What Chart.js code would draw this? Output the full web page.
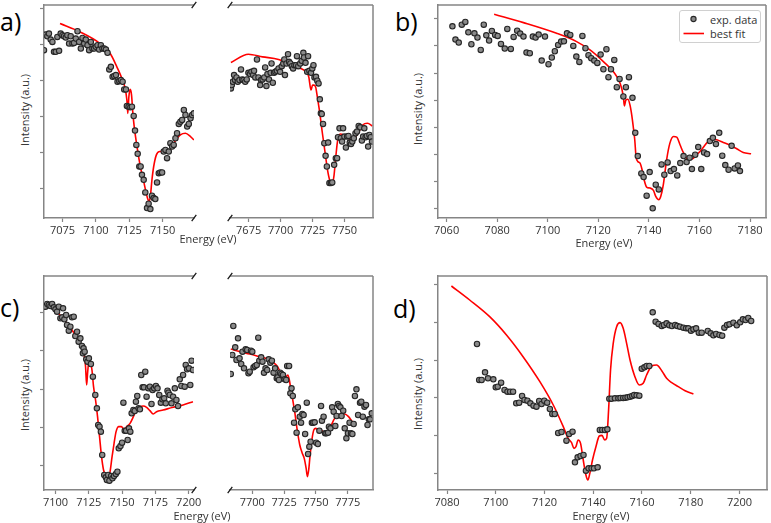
<!DOCTYPE html>
<html>
<head>
<meta charset="utf-8">
<script src="https://cdn.jsdelivr.net/npm/chart.js@4/dist/chart.umd.min.js"></script>
<style>
  body { margin: 0; background: #fff; font-family: 'Open Sans', sans-serif; color: #333; }
  #page { position: relative; width: 771px; height: 523px; overflow: hidden; }
  .plot { position: absolute; }
  .txt { position: absolute; white-space: nowrap; font-size: 11px; line-height: 1; }
  .letter { position: absolute; font-size: 25px; line-height: 1; color: #000; }
  .ytitle { position: absolute; font-size: 11px; line-height: 1; white-space: nowrap; transform: translate(-50%, -50%) rotate(-90deg); }
  .xtitle { position: absolute; font-size: 11px; line-height: 1; white-space: nowrap; transform: translate(-50%, -50%); }
  #legend { position: absolute; left: 679px; top: 10px; width: 80px; height: 31px; border: 1px solid #d0d0d0; border-radius: 3px; background: #fff; }
</style>
</head>
<body>
<div id="page">
  <div class="letter" style="left:0px; top:9px;">a)</div>
  <div class="letter" style="left:395px; top:9px;">b)</div>
  <div class="letter" style="left:0px; top:295px;">c)</div>
  <div class="letter" style="left:393px; top:296px;">d)</div>

  <div class="ytitle" style="left:24px; top:110px;">Intensity (a.u.)</div>
  <div class="ytitle" style="left:417px; top:109px;">Intensity (a.u.)</div>
  <div class="ytitle" style="left:24px; top:395px;">Intensity (a.u.)</div>
  <div class="ytitle" style="left:417px; top:394px;">Intensity (a.u.)</div>

  <div class="xtitle" style="left:208px; top:238px;">Energy (eV)</div>
  <div class="xtitle" style="left:604px; top:242px;">Energy (eV)</div>
  <div class="xtitle" style="left:202px; top:515px;">Energy (eV)</div>
  <div class="xtitle" style="left:601px; top:515px;">Energy (eV)</div>
</div>

<script>
// panel a, low energy part
const aLoE = [7061.1,7062.3,7063.6,7064.8,7066.1,7067.4,7068.6,7069.9,7071.1,7072.4,7073.6,7074.9,7076.1,7077.4,7078.6,7079.9,7081.1,7082.4,7083.6,7084.9,7086.2,7087.4,7088.7,7089.9,7091.2,7092.4,7093.7,7094.9,7096.2,7097.4,7098.7,7099.9,7101.2,7102.4,7103.7,7104.9,7106.2,7107.5,7108.7,7110.0,7111.2,7112.5,7113.7,7115.0,7116.2,7117.5,7118.7,7120.0,7121.2,7122.5,7123.2,7124.5,7125.8,7127.0,7128.3,7129.3,7130.3,7131.3,7132.5,7133.5,7134.5,7135.8,7137.0,7138.3,7139.5,7140.8,7142.0,7143.3,7144.5,7145.8,7147.1,7148.3,7149.6,7150.8,7152.1,7153.3,7154.6,7155.8,7157.1,7158.3,7159.6,7160.8,7162.1,7163.3,7164.6,7165.9,7167.1,7168.4,7169.6,7170.9,7172.1,7173.4];
const aLoI = [5.05,5.52,5.47,5.55,5.37,5.30,5.00,5.00,5.45,5.03,5.55,5.50,5.47,5.43,5.50,5.25,5.47,5.25,5.27,5.40,5.62,5.30,5.10,5.42,5.25,5.37,5.20,5.05,5.30,5.10,5.10,5.15,5.20,5.07,5.20,5.10,5.10,5.07,4.97,4.47,4.55,4.25,4.27,4.30,4.10,4.12,4.15,4.10,3.87,3.87,3.37,3.35,3.33,3.35,3.07,2.63,2.20,1.93,1.55,1.55,1.30,1.15,0.77,0.30,0.43,0.27,0.67,0.60,0.57,1.07,1.35,1.37,1.37,2.00,2.05,1.80,2.00,2.25,2.15,2.20,2.40,2.55,2.83,2.90,2.95,3.25,3.10,2.75,2.83,3.00,3.10,3.15];
const aLoFitE = [7073.1,7088.2,7103.2,7110.7,7115.7,7119.5,7121.9,7123.2,7123.9,7124.7,7125.7,7126.7,7127.7,7128.7,7130.8,7133.3,7135.8,7138.3,7139.8,7140.8,7142.0,7143.3,7145.3,7147.8,7150.8,7154.6,7158.3,7163.3,7167.1,7170.9,7173.4];
const aLoFitI = [5.85,5.60,5.25,4.95,4.55,4.20,3.90,3.55,3.15,3.65,3.87,3.70,3.15,2.75,2.15,1.55,1.10,0.65,0.50,0.65,1.15,1.55,1.90,2.00,2.00,2.00,2.25,2.50,2.55,2.45,2.35];

// panel a, high energy part
const aHiE = [7661.1,7661.8,7662.6,7663.6,7664.3,7665.5,7666.5,7667.8,7669.0,7670.0,7671.0,7672.3,7673.5,7674.8,7676.0,7677.2,7678.5,7679.2,7680.2,7681.5,7682.7,7684.0,7684.7,7685.9,7687.2,7687.9,7688.9,7689.7,7690.9,7692.2,7692.9,7693.9,7694.9,7695.9,7697.1,7698.4,7699.6,7700.9,7702.1,7702.9,7703.4,7704.6,7705.8,7706.6,7707.6,7708.8,7709.8,7710.8,7712.1,7712.8,7713.8,7715.3,7716.5,7717.8,7718.3,7719.5,7720.8,7721.5,7722.5,7723.8,7724.8,7725.7,7726.5,7727.7,7728.7,7729.7,7730.7,7731.5,7732.2,7733.2,7734.2,7735.2,7736.2,7737.2,7738.2,7739.4,7740.4,7741.9,7743.2,7744.2,7744.9,7746.1,7747.1,7748.1,7748.9,7749.9,7751.1,7752.1,7753.1,7754.1,7755.1,7756.1,7757.3,7758.6,7759.8,7761.1,7762.3,7763.6,7764.6,7765.5,7766.5,7767.5,7768.5,7769.5,7770.5,7771.5];
const aHiI = [3.90,4.00,4.10,4.30,4.15,4.23,4.10,4.15,4.47,4.17,4.15,4.10,4.17,4.37,4.33,4.40,4.30,4.43,4.23,4.77,4.23,4.00,4.15,4.17,4.23,4.53,3.97,4.33,4.17,4.37,4.65,4.07,4.37,4.40,4.43,4.50,4.40,4.57,4.65,4.77,4.30,4.65,4.93,4.70,4.65,4.57,4.50,4.60,4.60,4.87,4.57,4.65,4.73,4.97,4.83,4.67,4.40,4.87,4.43,4.37,4.50,4.60,4.23,4.25,4.13,4.05,3.57,3.15,3.13,2.83,2.25,1.87,1.55,2.27,1.05,1.05,1.07,1.60,1.80,1.80,2.43,2.70,2.40,2.30,2.70,2.45,2.12,2.45,2.47,2.27,2.23,2.30,2.40,2.55,2.60,2.77,2.73,2.33,2.45,2.70,2.43,2.47,2.15,2.50,2.43,2.30];
const aHiFitE = [7661.1,7674.8,7685.9,7698.4,7710.8,7718.3,7722.0,7723.8,7725.0,7726.2,7727.5,7728.7,7730.7,7732.7,7734.7,7736.7,7738.7,7740.2,7741.7,7743.2,7744.7,7746.6,7749.4,7753.1,7755.6,7760.6,7764.3,7768.0,7771.8];
const aHiFitI = [4.68,4.93,4.85,4.77,4.55,4.45,4.25,3.85,4.00,4.00,3.93,3.65,3.15,2.55,2.00,1.45,1.10,1.00,1.25,1.85,2.35,2.53,2.50,2.40,2.35,2.55,2.80,2.85,2.77];

// panel b
const bE = [7062.3,7063.5,7064.8,7066.0,7067.4,7068.6,7069.8,7071.0,7072.2,7073.5,7074.7,7075.7,7076.8,7077.9,7079.2,7080.2,7081.5,7083.0,7084.0,7085.4,7086.5,7087.9,7089.1,7090.4,7091.6,7092.9,7094.1,7095.2,7096.4,7097.6,7098.9,7100.3,7101.6,7102.8,7104.1,7105.3,7106.4,7107.6,7108.9,7110.1,7111.3,7112.5,7113.7,7114.9,7116.1,7117.2,7118.4,7119.6,7120.9,7122.0,7123.2,7124.0,7125.0,7126.3,7127.3,7128.4,7129.9,7130.9,7132.1,7133.5,7134.6,7135.6,7137.0,7137.9,7139.1,7140.3,7141.5,7142.7,7143.9,7145.0,7146.1,7147.4,7148.6,7149.9,7151.2,7152.4,7153.7,7154.9,7156.1,7157.0,7158.3,7159.5,7160.7,7161.8,7163.0,7164.1,7165.3,7166.5,7167.8,7169.0,7170.2,7171.5,7172.7,7173.9,7175.2,7176.0];
const bI = [5.76,5.36,5.27,5.81,5.89,5.58,5.22,5.55,5.42,5.05,5.81,5.49,5.33,5.62,5.50,5.47,5.23,5.09,5.68,5.08,5.44,5.63,5.54,5.45,4.97,4.95,5.45,5.42,5.51,4.73,5.45,4.62,4.82,5.01,5.20,5.30,5.31,5.55,5.50,5.17,4.85,4.69,5.47,5.10,4.89,4.80,4.73,4.66,4.91,4.47,5.07,4.23,4.47,4.75,3.93,4.18,3.65,3.93,4.23,3.61,2.56,1.86,1.34,1.23,0.67,1.38,0.29,1.00,0.86,1.61,1.30,1.67,1.41,1.47,1.28,1.65,1.86,1.68,1.81,1.47,1.90,2.13,1.47,1.97,1.92,2.31,2.41,2.22,2.56,1.87,1.59,1.45,2.17,1.49,1.58,1.41];
const bFitE = [7078.8,7090.4,7103.5,7111.4,7116.7,7122.0,7125.9,7128.6,7129.9,7130.3,7130.9,7131.7,7132.5,7133.2,7133.8,7134.4,7134.9,7135.6,7136.5,7137.3,7138.1,7139.1,7140.4,7141.8,7142.7,7143.9,7144.7,7145.7,7147.0,7148.3,7149.7,7151.0,7152.3,7153.6,7155.3,7156.9,7158.9,7160.8,7162.8,7164.8,7166.8,7169.4,7172.0,7174.7,7177.3,7180.4];
const bFitI = [6.12,5.87,5.55,5.30,5.05,4.70,4.40,4.05,3.65,3.37,3.55,3.57,3.40,3.10,2.75,2.35,1.85,1.70,1.65,1.45,1.15,0.93,0.90,0.83,0.65,0.55,0.65,1.00,1.75,2.25,2.45,2.43,2.20,1.97,1.77,1.77,1.90,2.05,2.25,2.37,2.35,2.27,2.19,2.08,1.97,1.93];

// panel c, low energy part
const cLoE = [7092.5,7093.8,7095.0,7096.3,7097.5,7098.8,7100.0,7101.2,7102.5,7103.7,7105.0,7105.7,7106.7,7108.0,7108.7,7110.0,7111.2,7112.4,7113.7,7114.9,7116.2,7117.4,7118.7,7119.9,7120.6,7121.1,7121.9,7123.1,7124.1,7125.1,7126.6,7128.1,7129.9,7131.1,7132.1,7133.1,7134.1,7135.1,7136.6,7137.8,7138.6,7139.6,7140.5,7141.8,7142.8,7144.0,7145.3,7146.5,7147.5,7148.8,7150.0,7151.0,7152.0,7153.0,7154.2,7155.2,7156.2,7157.2,7158.5,7159.5,7160.4,7161.4,7162.4,7163.4,7164.4,7165.4,7166.4,7167.4,7168.4,7169.7,7170.9,7172.1,7172.9,7174.1,7175.4,7176.6,7177.9,7179.1,7180.3,7181.6,7182.8,7184.1,7184.8,7185.8,7187.1,7188.3,7189.6,7190.8,7192.0,7193.3,7194.5,7195.8,7197.0,7197.8,7198.8,7200.2,7201.2,7202.2,7203.2];
const cLoI = [5.50,5.58,5.55,5.52,5.58,5.48,5.42,5.35,5.50,5.15,5.18,5.45,5.12,5.25,4.95,4.78,4.90,5.18,5.20,4.62,4.75,4.45,4.55,4.32,4.10,4.25,4.15,3.92,3.85,3.95,3.78,3.40,2.85,2.45,1.95,1.90,1.75,1.05,0.45,0.38,0.30,0.45,0.28,0.42,0.35,0.42,0.48,0.55,1.25,1.32,1.42,2.62,1.78,1.78,1.50,1.85,1.75,2.30,2.40,2.37,2.65,2.82,2.45,2.42,3.45,3.08,3.08,3.55,2.80,3.05,3.10,2.58,3.00,3.05,3.12,3.05,2.85,2.62,2.72,2.75,2.60,2.98,2.92,2.85,2.60,2.80,3.05,2.70,2.52,3.32,3.12,3.45,3.10,3.75,3.62,3.65,3.15,3.88,3.60];
const cLoFitE = [7100.0,7108.7,7114.9,7119.9,7121.6,7122.6,7123.4,7124.1,7125.1,7126.1,7127.4,7128.6,7130.1,7131.6,7133.1,7134.6,7136.1,7138.1,7139.8,7141.0,7142.5,7144.0,7145.5,7147.5,7149.5,7151.5,7153.5,7156.0,7158.5,7160.9,7163.4,7165.9,7168.4,7170.9,7173.4,7175.9,7180.8,7188.3,7195.8,7203.2];
const cLoFitI = [5.40,5.00,4.65,4.30,4.05,3.70,3.15,3.50,3.85,3.85,3.60,3.10,2.70,2.20,1.60,1.00,0.60,0.40,0.35,0.55,1.00,1.40,1.75,1.90,1.90,1.82,1.90,2.00,2.20,2.42,2.50,2.52,2.48,2.38,2.28,2.35,2.40,2.48,2.55,2.65];

// panel c, high energy part
const cHiE = [7683.1,7684.3,7685.1,7686.6,7687.6,7688.8,7690.0,7691.3,7692.3,7693.5,7694.8,7696.0,7697.0,7698.0,7699.0,7700.0,7701.0,7702.2,7703.5,7704.7,7705.5,7707.0,7708.0,7709.2,7710.4,7711.7,7712.9,7714.2,7715.4,7716.7,7717.9,7719.2,7719.9,7720.9,7721.9,7722.9,7724.1,7725.4,7726.6,7727.4,7728.9,7729.9,7730.8,7731.8,7732.8,7733.8,7734.8,7735.8,7737.3,7738.3,7739.3,7740.3,7741.5,7742.8,7743.8,7744.8,7745.8,7746.8,7747.8,7749.0,7750.2,7751.5,7752.7,7754.0,7754.7,7756.0,7757.2,7758.2,7759.5,7760.2,7761.4,7762.7,7763.9,7765.2,7766.2,7767.2,7768.2,7769.2,7770.1,7771.4,7772.6,7773.9,7775.1,7776.4,7777.6,7778.6,7779.6,7780.6,7781.8,7783.1,7784.6,7785.6,7786.8,7788.1,7789.3,7790.5,7791.5,7792.5,7793.8];
const cHiI = [3.48,4.05,4.92,4.28,3.90,4.55,3.95,3.78,4.15,3.65,4.22,4.20,3.50,3.55,4.18,4.15,3.68,3.72,3.75,4.57,3.88,3.98,3.85,3.52,3.65,3.60,3.92,3.82,3.88,3.52,3.65,3.35,3.38,3.30,3.52,3.48,3.45,3.32,3.30,3.72,3.72,2.90,3.05,2.82,2.02,2.42,1.72,2.48,2.20,2.02,2.28,2.25,1.68,2.62,1.08,1.30,1.45,2.02,2.02,2.03,1.42,1.38,1.78,2.52,2.08,2.20,1.70,1.70,1.72,1.90,1.85,2.48,2.35,1.92,2.22,2.58,2.52,2.48,2.22,2.38,1.85,1.55,1.70,2.02,1.70,1.68,1.98,2.82,3.02,2.25,2.62,2.65,2.20,2.50,2.55,1.95,2.12,2.12,2.30];
const cHiFitE = [7683.1,7690.5,7698.0,7705.5,7710.4,7715.4,7719.9,7722.4,7724.9,7726.6,7727.9,7729.1,7730.3,7731.8,7733.3,7735.3,7737.3,7739.1,7740.8,7742.3,7743.3,7744.3,7745.3,7746.8,7748.3,7749.8,7751.7,7753.7,7755.7,7757.7,7760.2,7762.2,7764.2,7766.7,7769.7,7772.6,7775.6,7777.6,7779.4];
const cHiFitI = [4.23,4.15,4.08,4.00,3.95,3.85,3.70,3.50,3.30,3.40,3.45,3.30,3.02,2.70,2.35,1.80,1.35,1.12,0.95,0.65,0.40,0.60,1.00,1.50,1.80,1.85,1.80,1.80,1.75,1.72,1.80,1.95,2.12,2.22,2.28,2.28,2.20,2.10,2.00];

// panel d
const dE = [7092.3,7093.2,7094.2,7095.6,7096.8,7099.0,7100.0,7100.8,7102.2,7103.6,7104.8,7105.9,7107.1,7108.4,7109.6,7110.8,7111.8,7113.0,7114.2,7115.5,7116.7,7117.8,7118.8,7119.9,7121.1,7122.2,7123.2,7124.2,7125.6,7127.0,7129.0,7130.1,7131.5,7132.5,7133.6,7134.8,7136.0,7137.0,7138.1,7139.3,7140.3,7141.8,7142.7,7143.7,7144.8,7145.8,7146.6,7147.5,7148.9,7150.3,7151.2,7152.3,7153.2,7154.1,7155.1,7156.0,7156.8,7157.8,7158.9,7159.9,7161.0,7161.9,7163.0,7164.4,7165.6,7166.8,7168.1,7169.0,7170.1,7171.2,7172.3,7173.6,7174.5,7175.6,7177.0,7178.1,7179.0,7180.1,7181.1,7182.2,7183.3,7184.5,7187.0,7188.2,7189.3,7190.4,7191.8,7192.9,7193.8,7194.9,7195.9,7197.5,7198.9,7200.3,7201.4,7202.5,7203.6,7204.8];
const dI = [4.38,3.30,3.30,3.53,3.35,3.32,3.08,3.10,3.22,3.00,2.95,2.95,2.95,2.60,2.62,2.82,2.70,2.68,2.60,2.53,2.50,2.67,2.58,2.68,2.62,2.43,2.28,2.28,1.71,1.74,1.48,1.68,1.75,0.83,0.98,1.02,1.05,0.58,0.65,0.65,0.65,0.68,1.80,1.80,1.80,1.82,2.74,2.74,2.75,2.75,2.76,2.76,2.77,2.78,2.80,2.82,2.85,2.84,2.83,3.64,3.68,3.72,3.72,5.33,5.05,4.98,4.92,4.95,5.00,4.94,4.92,4.95,4.92,4.90,4.87,4.85,4.85,4.78,4.82,4.85,4.72,4.72,4.77,4.70,4.64,4.68,4.65,4.63,4.87,4.95,4.97,5.02,4.94,5.03,5.12,5.10,5.16,5.07];
const dFitE = [7081.8,7089.3,7097.5,7104.4,7111.2,7118.1,7123.6,7127.7,7129.7,7131.1,7132.1,7132.9,7133.8,7134.8,7135.9,7137.0,7137.8,7138.6,7139.7,7141.1,7142.5,7143.6,7144.7,7145.5,7146.3,7147.1,7148.2,7149.6,7151.0,7152.3,7153.7,7155.1,7157.1,7158.9,7160.5,7161.9,7164.0,7166.0,7168.1,7170.1,7172.2,7174.9,7177.7,7181.1];
const dFitI = [6.12,5.70,5.20,4.65,4.00,3.25,2.55,1.90,1.55,1.42,1.25,1.30,1.50,1.40,0.90,0.45,0.30,0.50,0.90,1.30,1.62,1.64,1.50,1.55,2.40,3.60,4.40,4.90,5.02,4.85,4.40,3.90,3.40,3.15,3.20,3.45,3.72,3.75,3.58,3.35,3.22,3.10,2.98,2.88];

// tick positions
const aLoTicks = [7075, 7100, 7125, 7150];
const aHiTicks = [7675, 7700, 7725, 7750];
const bTicks = [7060, 7080, 7100, 7120, 7140, 7160, 7180];
const cLoTicks = [7100, 7125, 7150, 7175, 7200];
const cHiTicks = [7700, 7725, 7750, 7775];
const dTicks = [7080, 7100, 7120, 7140, 7160, 7180, 7200];
const yTicksA = [0.88, 1.97, 3.05, 4.13, 5.22, 6.30];
const yTicksB = [0.28, 1.09, 1.90, 2.72, 3.54, 4.35, 5.18, 6.00];
const yTicksC = [0.73, 1.88, 3.03, 4.18, 5.33];
const yTicksD = [0.50, 1.64, 2.77, 3.89, 5.02, 6.15];

const gray = '#858585';
const red = '#ff0000';
const FONT = 'Open Sans';

const pts = (xs, ys) => xs.map((x, i) => ({ x: x, y: ys[i] }));

// top/right frame + axis break marks
const framePlugin = {
  id: 'frame',
  afterDraw(chart, args, o) {
    const ctx = chart.ctx, a = chart.chartArea;
    ctx.save();
    ctx.strokeStyle = gray;
    ctx.lineWidth = 1.5;
    ctx.beginPath();
    ctx.moveTo(a.left, a.top);
    ctx.lineTo(a.right, a.top);
    if (o.side !== 'left') {
      ctx.moveTo(a.right, a.top);
      ctx.lineTo(a.right, a.bottom);
    }
    ctx.stroke();
    if (o.side) {
      const x = o.side === 'left' ? a.right : a.left;
      ctx.strokeStyle = '#1a1a1a';
      ctx.lineWidth = 1.3;
      ctx.beginPath();
      [a.top, a.bottom].forEach(y => {
        ctx.moveTo(x - 2.3, y + 3.2);
        ctx.lineTo(x + 2.3, y - 3.2);
      });
      ctx.stroke();
    }
    ctx.restore();
  }
};

function makePanel(p) {
  const padL = 8, padT = 6, padR = 16, xH = 30;
  const holder = document.createElement('div');
  holder.className = 'plot';
  holder.style.left = (p.L - padL) + 'px';
  holder.style.top = (p.T - padT) + 'px';
  const cv = document.createElement('canvas');
  cv.width = p.R - p.L + padL + padR;
  cv.height = p.B - p.T + padT + xH;
  holder.appendChild(cv);
  document.getElementById('page').appendChild(holder);

  new Chart(cv, {
    type: 'scatter',
    data: {
      datasets: [
        {
          data: pts(p.exp[0], p.exp[1]),
          pointRadius: 2.7,
          pointBackgroundColor: '#8a8a8a',
          pointBorderColor: '#262626',
          pointBorderWidth: 1.1,
          showLine: false
        },
        {
          data: pts(p.fit[0], p.fit[1]),
          showLine: true,
          pointRadius: 0,
          borderColor: red,
          borderWidth: 1.6,
          cubicInterpolationMode: 'monotone'
        }
      ]
    },
    options: {
      responsive: false,
      animation: false,
      events: [],
      layout: { padding: { left: p.side === 'right' ? padL : 0, top: padT, right: padR, bottom: 0 } },
      plugins: { legend: { display: false }, tooltip: { enabled: false }, frame: { side: p.side } },
      scales: {
        x: {
          type: 'linear',
          min: p.xMin,
          max: p.xMax,
          afterBuildTicks: s => { s.ticks = p.xTicks.map(v => ({ value: v })); },
          afterFit: s => { s.height = xH; s.paddingLeft = 0; s.paddingRight = 0; },
          ticks: { callback: v => String(v), autoSkip: false, maxRotation: 0, padding: 2, color: '#333', font: { family: FONT, size: 11 } },
          grid: { drawOnChartArea: false, drawTicks: true, tickLength: 4, color: gray, tickColor: gray, tickWidth: 1.2 },
          border: { color: gray, width: 1.5 }
        },
        y: {
          type: 'linear',
          min: 0,
          max: p.yMax,
          display: p.side !== 'right',
          afterBuildTicks: s => { s.ticks = p.yTicks.map(v => ({ value: v })); },
          afterFit: s => { s.width = padL; s.paddingTop = 0; s.paddingBottom = 0; },
          ticks: { display: false },
          grid: { drawOnChartArea: false, drawTicks: true, tickLength: 4, color: gray, tickColor: gray, tickWidth: 1.2 },
          border: { color: gray, width: 1.5 }
        }
      }
    },
    plugins: [framePlugin]
  });
}

makePanel({ L: 44, R: 194, T: 5, B: 218, xMin: 7061.1, xMax: 7173.5, xTicks: aLoTicks, yMax: 6.41, yTicks: yTicksA, side: 'left', exp: [aLoE, aLoI], fit: [aLoFitE, aLoFitI] });
makePanel({ L: 222, R: 373, T: 5, B: 218, xMin: 7660.4, xMax: 7772.3, xTicks: aHiTicks, yMax: 6.41, yTicks: yTicksA, side: 'right', exp: [aHiE, aHiI], fit: [aHiFitE, aHiFitI] });
makePanel({ L: 438, R: 766, T: 5, B: 218, xMin: 7056.6, xMax: 7186.3, xTicks: bTicks, yMax: 6.40, yTicks: yTicksB, side: null, exp: [bE, bI], fit: [bFitE, bFitI] });
makePanel({ L: 44, R: 194, T: 276, B: 490, xMin: 7091.4, xMax: 7204.0, xTicks: cLoTicks, yMax: 6.42, yTicks: yTicksC, side: 'left', exp: [cLoE, cLoI], fit: [cLoFitE, cLoFitI] });
makePanel({ L: 222, R: 373, T: 276, B: 490, xMin: 7682.5, xMax: 7794.8, xTicks: cHiTicks, yMax: 6.42, yTicks: yTicksC, side: 'right', exp: [cHiE, cHiI], fit: [cHiFitE, cHiFitI] });
makePanel({ L: 438, R: 767, T: 276, B: 490, xMin: 7076.3, xMax: 7211.3, xTicks: dTicks, yMax: 6.42, yTicks: yTicksD, side: null, exp: [dE, dI], fit: [dFitE, dFitI] });

// legend for panel b
const lg = document.createElement('div');
lg.id = 'legend';
lg.innerHTML =
  '<svg width="80" height="31" style="position:absolute;left:0;top:0">' +
  '<circle cx="13.5" cy="8" r="2.6" fill="#8a8a8a" stroke="#262626" stroke-width="1.1"/>' +
  '<line x1="3.5" y1="22.5" x2="24" y2="22.5" stroke="' + red + '" stroke-width="1.6"/></svg>' +
  '<div class="txt" style="left:30px;top:2.5px;">exp. data</div>' +
  '<div class="txt" style="left:30px;top:17px;">best fit</div>';
document.getElementById('page').appendChild(lg);

// keep the axis titles above the canvases
document.querySelectorAll('.xtitle, .ytitle, .letter').forEach(el => { el.style.zIndex = 2; });
</script>
</body>
</html>
